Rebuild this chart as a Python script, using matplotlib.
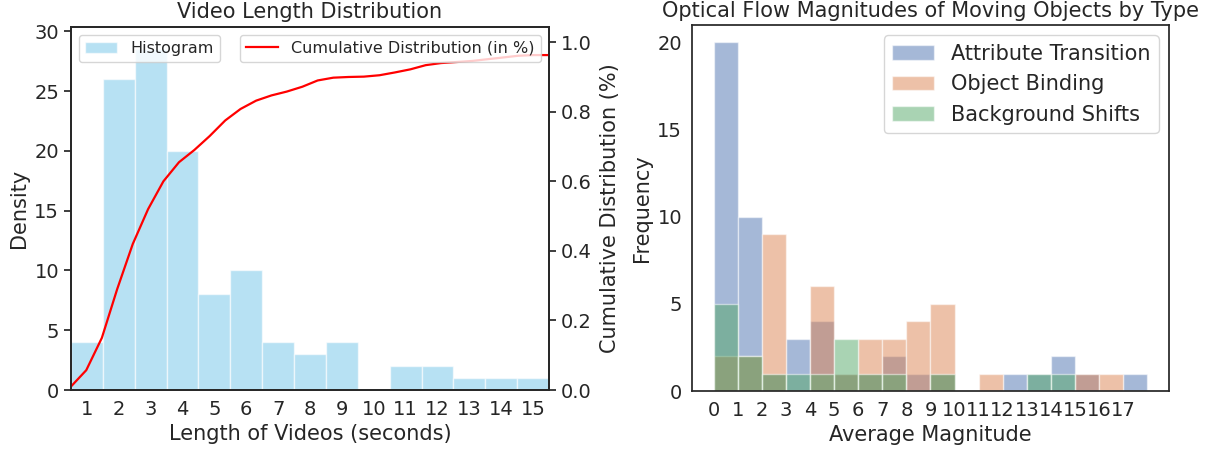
import numpy as np
import matplotlib.pyplot as plt

plt.rcParams['font.family'] = 'DejaVu Sans'
plt.rcParams['text.color'] = '#262626'
plt.rcParams['axes.labelcolor'] = '#262626'
plt.rcParams['xtick.color'] = '#262626'
plt.rcParams['ytick.color'] = '#262626'

# video length histogram (density per 1 s bin) + cumulative curve
video_len = list(range(1, 16))
density = [4, 26, 28.5, 20, 8, 10, 4, 3, 4, 0, 2, 2, 1, 1, 1]
cdf_x = [0.5, 0.98, 1.47, 1.95, 2.44, 2.92, 3.4, 3.89, 4.37, 4.85, 5.34, 5.82,
         6.31, 6.79, 7.27, 7.76, 8.24, 8.73, 9.21, 9.69, 10.18, 10.66, 11.15,
         11.63, 12.11, 12.6, 13.08, 13.56, 14.05, 14.53, 15.02, 15.5]
cdf_y = [0.01, 0.057, 0.15, 0.29, 0.42, 0.52, 0.6, 0.655, 0.69, 0.73, 0.775,
         0.808, 0.832, 0.847, 0.858, 0.872, 0.89, 0.898, 0.9, 0.901, 0.905,
         0.913, 0.922, 0.934, 0.94, 0.943, 0.946, 0.951, 0.956, 0.961, 0.963, 0.963]

# optical flow magnitude counts per bin (bin left edges 0..17)
mag_bins = list(range(18))
attr_trans = [20, 10, 1, 3, 4, 1, 1, 2, 1, 1, 0, 0, 1, 1, 2, 1, 0, 1]
obj_binding = [2, 2, 9, 0, 6, 1, 3, 3, 4, 5, 0, 1, 0, 0, 0, 1, 1, 0]
bg_shifts = [5, 2, 1, 1, 1, 3, 1, 1, 0, 1, 0, 0, 0, 1, 1, 0, 0, 0]

fig = plt.figure(figsize=(12.15, 4.5), dpi=100)
ax1 = fig.add_axes([0.0584, 0.1333, 0.3935, 0.8077])
ax3 = fig.add_axes([0.5695, 0.1311, 0.3926, 0.8133])

# ---- left panel
ax1.bar(video_len, density, width=1.0, color='skyblue', alpha=0.6,
        edgecolor='white', linewidth=1, label='Histogram')
ax1.set_xlim(0.5, 15.5)
ax1.set_ylim(0, 30.4)
ax1.set_xticks(video_len)
ax1.set_yticks([0, 5, 10, 15, 20, 25, 30])
ax1.tick_params(axis='x', length=0, labelsize=14, pad=7)
ax1.tick_params(axis='y', length=5, width=1.25, labelsize=14)
ax1.set_xlabel('Length of Videos (seconds)', fontsize=15)
ax1.set_ylabel('Density', fontsize=15)
ax1.set_title('Video Length Distribution', fontsize=15)
ax1.legend(loc='upper left', fontsize=11.5)

ax2 = ax1.twinx()
ax2.plot(cdf_x, cdf_y, color='red', lw=1.6, label='Cumulative Distribution (in %)')
ax2.set_ylim(0, 1.045)
ax2.set_yticks([0.0, 0.2, 0.4, 0.6, 0.8, 1.0])
ax2.tick_params(axis='y', length=5, width=1.25, labelsize=14)
ax2.set_ylabel('Cumulative Distribution (%)', fontsize=15, labelpad=6)
ax2.legend(loc='upper right', fontsize=11.5)

for a in (ax1, ax2):
    for s in a.spines.values():
        s.set_color('#262626')
        s.set_linewidth(1.25)

# ---- right panel
ax3.bar(mag_bins, attr_trans, width=1.0, align='edge', color='#4C72B0', alpha=0.5,
        edgecolor='white', linewidth=1, label='Attribute Transition')
ax3.bar(mag_bins, obj_binding, width=1.0, align='edge', color='#DD8452', alpha=0.5,
        edgecolor='white', linewidth=1, label='Object Binding')
ax3.bar(mag_bins, bg_shifts, width=1.0, align='edge', color='#55A868', alpha=0.5,
        edgecolor='white', linewidth=1, label='Background Shifts')
ax3.set_xlim(-0.9, 18.9)
ax3.set_ylim(0, 21)
ax3.set_xticks(mag_bins)
ax3.set_yticks([0, 5, 10, 15, 20])
ax3.tick_params(length=0, labelsize=14, pad=7)
ax3.set_xlabel('Average Magnitude', fontsize=15)
ax3.set_ylabel('Frequency', fontsize=15)
ax3.set_title('Optical Flow Magnitudes of Moving Objects by Type', fontsize=15)
ax3.legend(loc='upper right', fontsize=15)
for s in ax3.spines.values():
    s.set_color('#262626')
    s.set_linewidth(1.25)

fig.savefig('out.png', dpi=100)
